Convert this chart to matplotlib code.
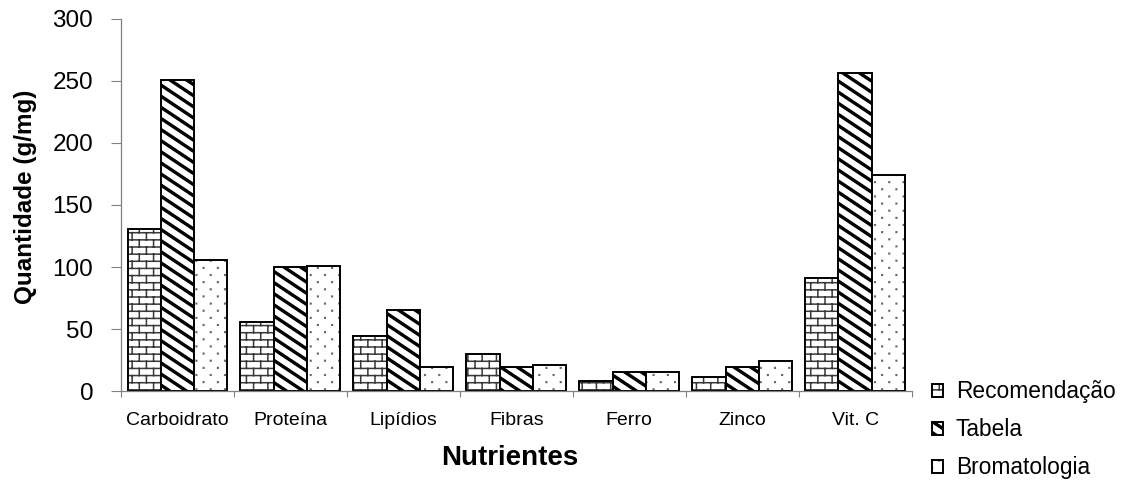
import numpy as np
import matplotlib
matplotlib.use("Agg")
import matplotlib.pyplot as plt
import matplotlib.hatch as mhatch
from matplotlib.colors import to_rgba
from matplotlib.path import Path

# Nutrient amounts per source
categorias = ["Carboidrato", "Proteína", "Lipídios", "Fibras", "Ferro", "Zinco", "Vit. C"]
recomendacao = [131, 56, 44, 30, 8, 11, 91]
tabela = [251, 100, 65, 19, 15, 19, 256]
bromatologia = [106, 101, 19, 21, 15, 24, 174]
series_nomes = ["Recomendação", "Tabela", "Bromatologia"]
yticks = [0, 50, 100, 150, 200, 250, 300]

BOX = [Path.MOVETO, Path.LINETO, Path.LINETO, Path.LINETO, Path.CLOSEPOLY]


# Hatch patterns in the old spreadsheet style: bricks, wide stripes, sparse dots
class BrickHatch(mhatch.HatchPatternBase):
    rows, cols = 14, 7

    def __init__(self, hatch, density):
        on = hatch.count("+") > 0
        nseg = self.rows + self.rows * self.cols + self.cols
        self.num_vertices = 2 * nseg if on else 0

    def set_vertices_and_codes(self, vertices, codes):
        off = 0.03
        h = 1.0 / self.rows
        ys = np.arange(self.rows) * h + off
        segs = [((-0.1, y), (1.1, y)) for y in ys]
        for i, y in enumerate(ys):
            for j in range(self.cols):
                x = (j + 0.25 + 0.5 * (i % 2)) / self.cols
                segs.append(((x, y), (x, y + h)))
        last = self.rows - 1
        for j in range(self.cols):
            x = (j + 0.25 + 0.5 * (last % 2)) / self.cols
            segs.append(((x, off - h), (x, off)))
        vertices[:] = np.array(segs).reshape(-1, 2)
        codes[0::2] = Path.MOVETO
        codes[1::2] = Path.LINETO


class StripeHatch(mhatch.HatchPatternBase):
    nx, ny = 6, 9
    d = 0.1

    def __init__(self, hatch, density):
        on = hatch.count("\\") > 0
        self.ks = np.arange(-1, self.nx + self.ny + 2)
        self.num_vertices = 5 * len(self.ks) if on else 0

    def set_vertices_and_codes(self, vertices, codes):
        x0, x1 = -0.2, 1.2
        polys = []
        for k in self.ks:
            lo, hi = k - self.d, k + self.d
            polys += [(x0, (lo - self.nx * x0) / self.ny), (x1, (lo - self.nx * x1) / self.ny),
                      (x1, (hi - self.nx * x1) / self.ny), (x0, (hi - self.nx * x0) / self.ny),
                      (x0, (lo - self.nx * x0) / self.ny)]
        vertices[:] = polys
        codes[:] = np.tile(BOX, len(self.ks))


class DotHatch(mhatch.HatchPatternBase):
    rows, cols = 14, 7
    s = 0.003

    def __init__(self, hatch, density):
        on = hatch.count(".") > 0
        self.num_vertices = 5 * self.rows * self.cols if on else 0

    def set_vertices_and_codes(self, vertices, codes):
        pts = []
        s = self.s
        for i in range(self.rows):
            y = (i + 0.5) / self.rows
            for j in range(self.cols):
                x = (j + 0.25 + 0.5 * (i % 2)) / self.cols
                pts += [(x - s, y - s), (x + s, y - s), (x + s, y + s), (x - s, y + s), (x - s, y - s)]
        vertices[:] = pts
        codes[:] = np.tile(BOX, self.rows * self.cols)


mhatch._hatch_types = [BrickHatch, StripeHatch, DotHatch]

plt.rcParams["font.family"] = ["Liberation Sans", "DejaVu Sans"]
plt.rcParams["hatch.linewidth"] = 1.1

fig = plt.figure(figsize=(11.31, 4.84), dpi=100)
ax = fig.add_axes([0.107, 0.192, 0.699, 0.769])

x = np.arange(len(categorias))
larg = 0.295
padroes = ["+", "\\", "."]
cores_hatch = ["#383838", "black", "#6a6a6a"]
dados = [recomendacao, tabela, bromatologia]
for i, (vals, nome, hat, ch) in enumerate(zip(dados, series_nomes, padroes, cores_hatch)):
    barras = ax.bar(x + (i - 1) * larg, vals, larg, color="white", edgecolor="black",
                    linewidth=1.4, hatch=hat, label=nome)
    for b in barras:
        b._hatch_color = to_rgba(ch)

ax.set_xlim(-0.5, len(categorias) - 0.5)
ax.set_ylim(0, 300)
ax.set_yticks(yticks)
ax.tick_params(axis="y", labelsize=17.5, length=7, width=0.8, color="#808080", pad=13)

# boundary ticks between groups, labels at group centres
ax.set_xticks(np.arange(len(categorias) + 1) - 0.5)
ax.set_xticklabels([])
ax.set_xticks(x, minor=True)
ax.set_xticklabels(categorias, minor=True)
ax.tick_params(axis="x", which="major", length=4, width=0.8, color="#808080")
ax.tick_params(axis="x", which="minor", length=0, labelsize=14, pad=15)

for side in ["top", "right"]:
    ax.spines[side].set_visible(False)
for side in ["left", "bottom"]:
    ax.spines[side].set_color("#808080")
    ax.spines[side].set_linewidth(0.9)

ax.set_ylabel("Quantidade (g/mg)", fontsize=17.5, fontweight="bold")
ax.yaxis.set_label_coords(-0.106, 0.521)
ax.set_xlabel("Nutrientes", fontsize=20, fontweight="bold")
ax.xaxis.set_label_coords(0.492, -0.145)

leg = fig.legend(loc="center left", bbox_to_anchor=(0.814, 0.112), frameon=False,
                 fontsize=16.4, handlelength=0.5, handleheight=0.5, handletextpad=0.55,
                 labelspacing=0.65, borderpad=0)
for h, ch in zip(leg.legend_handles, cores_hatch):
    h._hatch_color = to_rgba(ch)

fig.savefig("out.png", dpi=100)
